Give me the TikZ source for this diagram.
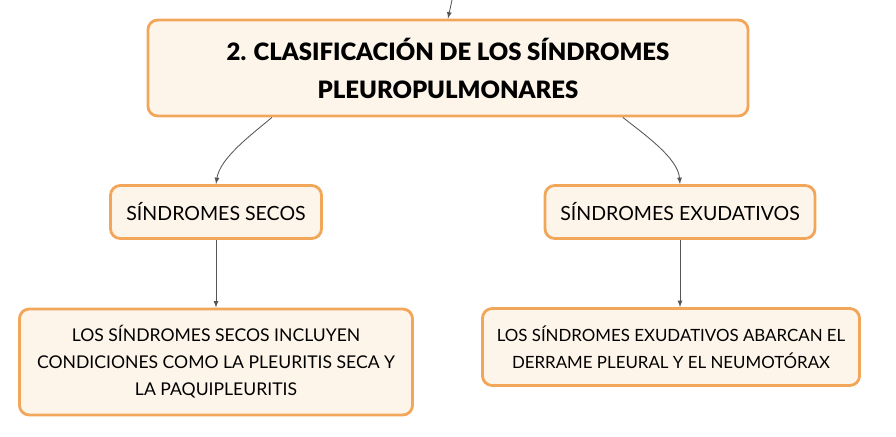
\documentclass[tikz,border=0pt]{standalone}
\usepackage{fontspec}
\setmainfont{Lato}
\newfontfamily\titlefont{Lato Black}
\usetikzlibrary{arrows,calc}
\definecolor{boxborder}{HTML}{F2A65A}
\definecolor{boxfill}{HTML}{FEF5EA}
\definecolor{linkgray}{HTML}{555555}
\tikzstyle{topic}=[rectangle,rounded corners=7pt,draw=boxborder,fill=boxfill,line width=2pt,align=center,inner sep=0pt]
\tikzstyle{link} = [draw,linkgray,line width=0.6pt,-latex]

\begin{document}
\begin{tikzpicture}[x=0.025cm,y=-0.025cm]
    \useasboundingbox (0,0) rectangle (896,436);
    % First we draw the boxes
    \node[topic,minimum width=15cm,minimum height=2.4cm,font=\titlefont\fontsize{17}{27}\selectfont] (title) at (448,68)
        {2. CLASIFICACIÓN DE LOS SÍNDROMES\\PLEUROPULMONARES};

    \foreach \pos/\name/\boxwd/\txt in {{(216,212)/secos/5.275cm/SÍNDROMES SECOS},
                                    {(680,212)/exud/6.75cm/SÍNDROMES EXUDATIVOS}}
        \node[topic,minimum width=\boxwd,minimum height=1.325cm,font=\fontsize{13.9}{16}\selectfont] (\name) at \pos {\txt};

    \node[topic,minimum width=9.825cm,minimum height=2.65cm,font=\fontsize{12.5}{19.2}\selectfont] (secosinfo) at (216,362)
        {LOS SÍNDROMES SECOS INCLUYEN\\CONDICIONES COMO LA PLEURITIS SECA Y\\LA PAQUIPLEURITIS};
    \node[topic,minimum width=9.425cm,minimum height=1.925cm,font=\fontsize{12}{19.2}\selectfont] (exudinfo) at (671,347)
        {LOS SÍNDROMES EXUDATIVOS ABARCAN EL\\DERRAME PLEURAL Y EL NEUMOTÓRAX};

    % Connect the boxes
    \coordinate (parent) at (452,0);
    \path[link] (parent) -- (title.north);
    \path[link] ($(title.south west)!0.208!(title.south east)$) .. controls (251,135) and (220,158) .. (secos.north);
    \path[link] ($(title.south west)!0.79!(title.south east)$) .. controls (645,135) and (678,158) .. (exud.north);
    \foreach \source/\dest in {secos/secosinfo, exud/exudinfo}
        \path[link] (\source.south) -- (\source.south |- \dest.north);

\end{tikzpicture}
\end{document}
